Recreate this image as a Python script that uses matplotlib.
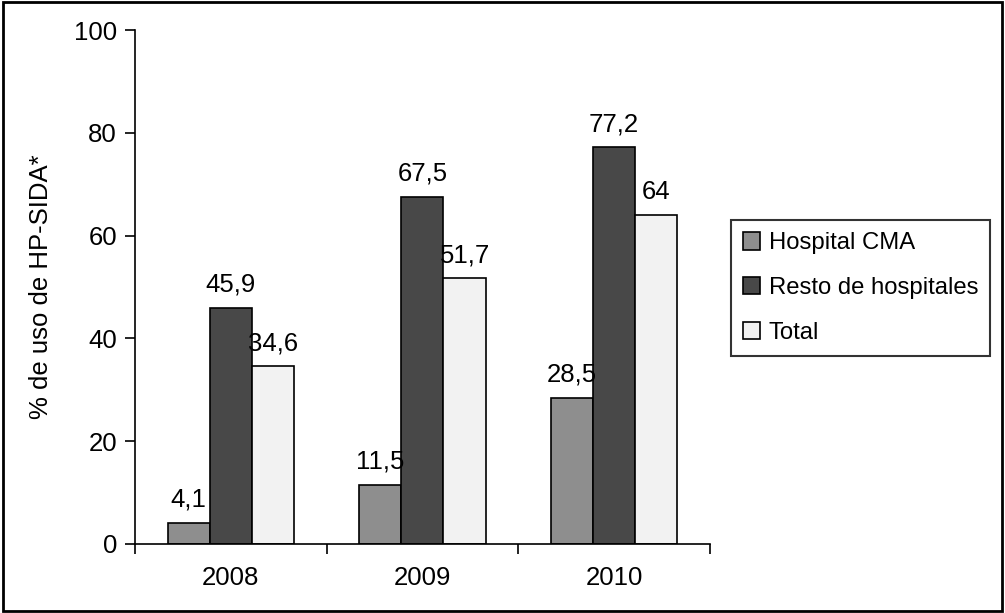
import matplotlib.pyplot as plt
from matplotlib.patches import Rectangle

years = ["2008", "2009", "2010"]
series_names = ["Hospital CMA", "Resto de hospitales", "Total"]
hospital_cma = [4.1, 11.5, 28.5]
resto = [45.9, 67.5, 77.2]
total = [34.6, 51.7, 64]
labels_cma = ["4,1", "11,5", "28,5"]
labels_resto = ["45,9", "67,5", "77,2"]
labels_total = ["34,6", "51,7", "64"]

colors = ["#8e8e8e", "#484848", "#f2f2f2"]

plt.rcParams['font.family'] = ['Liberation Sans', 'DejaVu Sans']
fig = plt.figure(figsize=(10.05, 6.13), dpi=100)
ax = fig.add_axes([0.1343, 0.1126, 0.572, 0.8384])

fs = 18.5
width = 0.22
x = list(range(len(years)))
allvals = [hospital_cma, resto, total]
alllabels = [labels_cma, labels_resto, labels_total]
for i, (vals, labs) in enumerate(zip(allvals, alllabels)):
    pos = [xi + (i - 1) * width for xi in x]
    bars = ax.bar(pos, vals, width, color=colors[i], edgecolor="black",
                  linewidth=1.2, label=series_names[i], zorder=2)
    for b, lab in zip(bars, labs):
        ax.annotate(lab, (b.get_x() + b.get_width() / 2, b.get_height()),
                    xytext=(0, 8), textcoords="offset points",
                    ha="center", va="bottom", fontsize=fs)

ax.set_xlim(-0.5, 2.5)
ax.set_ylim(0, 100)
ax.set_yticks([0, 20, 40, 60, 80, 100])
ax.set_xticks([-0.5, 0.5, 1.5, 2.5])
ax.set_xticklabels([])
ax.set_xticks(x, minor=True)
ax.set_xticklabels(years, minor=True)
ax.tick_params(axis="x", which="major", direction="out", length=7, width=1.2)
ax.tick_params(axis="x", which="minor", length=0, pad=16, labelsize=fs)
ax.tick_params(axis="y", direction="out", length=7, width=1.2, pad=6, labelsize=fs)
for s in ["top", "right"]:
    ax.spines[s].set_visible(False)
ax.spines["left"].set_linewidth(1.2)
ax.spines["bottom"].set_linewidth(1.2)
ax.set_ylabel("% de uso de HP-SIDA*", fontsize=fs, labelpad=15)

leg = fig.legend(loc="upper left", bbox_to_anchor=(0.727, 0.641), fontsize=17.2,
                 frameon=True, fancybox=False, handlelength=0.75, handleheight=0.75,
                 handletextpad=0.35, labelspacing=0.95, borderpad=0.5,
                 borderaxespad=0)
leg.get_frame().set_edgecolor("black")
leg.get_frame().set_linewidth(1.5)

fig.patches.append(Rectangle((0.003, 0.004), 0.994, 0.992, transform=fig.transFigure,
                             fill=False, edgecolor="black", linewidth=2))

fig.savefig("out.png", dpi=100)
